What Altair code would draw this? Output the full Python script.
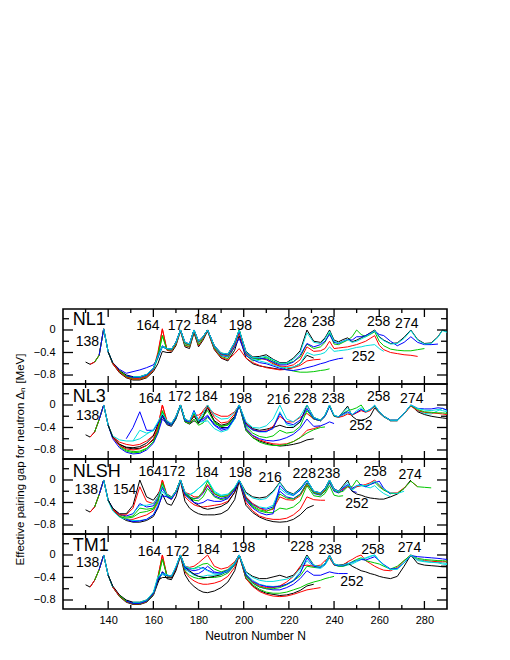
import altair as alt
import pandas as pd

_ = None

# neutron-number grid shared by all chains
GRID_N = [128, 130, 132, 134, 136, 138, 140, 142,
          145, 148, 151, 154, 157, 160,
          162, 164, 166, 168, 170, 172, 174, 176, 178, 180, 182, 184,
          187, 190, 193, 196, 198,
          201, 204, 207, 210, 213, 216, 219, 222, 225,
          228, 231, 234, 236, 238, 240, 242, 244, 246, 248, 250, 252, 254, 256, 258, 260, 262,
          265, 268, 271, 274, 277, 280, 283, 286, 288, 290]

CHAIN_COLORS = ["#000000", "#ff0000", "#00c800", "#0000ff", "#00dede",
                "#000000", "#ff0000", "#00c800", "#0000ff", "#00dede"]

# each chain: (first N, values on consecutive grid points)
NL1 = [
    (130, [-.57, -.61, -.57, -.45, .02, -.39, -.60,
           -.76, -.85, -.89, -.89, -.85, -.74,
           -.60, -.38, -.40, -.40, -.28, -.02, -.30, -.33, -.05, -.30, -.18, -.02,
           -.35, -.50, -.55, -.36, -.10,
           -.50, -.60, -.64, -.66, -.68, -.70, -.70, -.66, -.60,
           -.45, -.50]),
    (132, [-.61, -.57, -.45, .02, -.39, -.60,
           -.75, -.84, -.88, -.88, -.84, -.72,
           -.45, .02, -.36, -.38, -.26, -.01, -.28, -.30, -.03, -.28, -.16, -.01,
           -.34, -.49, -.53, -.42, -.33,
           -.50, -.58, -.63, -.67, -.69, -.71, -.70, -.67, -.63,
           -.55, -.53, -.52]),
    (134, [-.57, -.45, .02, -.39, -.59,
           -.74, -.83, -.87, -.87, -.83, -.71,
           -.50, -.10, -.35, -.37, -.25, .00, -.27, -.29, -.02, -.26, -.15, .00,
           -.32, -.47, -.51, -.30, .00,
           -.45, -.55, -.52, -.50, -.58, -.65, -.70, -.73, -.75,
           -.75, -.74, -.72, -.71, -.69]),
    (136, [-.45, .02, -.39, -.58,
           -.70, -.77, -.74, -.71, -.67, -.62,
           -.50, -.30, -.34, -.35, -.22, .00, -.24, -.26, .00, -.22, -.13, .00,
           -.30, -.45, -.48, -.30, -.15,
           -.45, -.53, -.58, -.60, -.64, -.68, -.71, -.72, -.70,
           -.67, -.64, -.60, -.58, -.55, -.53, -.51, -.50]),
    (138, [.02, -.39, -.58,
           -.73, -.81, -.85, -.85, -.81, -.70,
           -.48, -.30, -.34, -.36, -.24, .00, -.25, -.27, .00, -.23, -.13, .00,
           -.30, -.44, -.47, -.25, .00,
           -.43, -.52, -.55, -.58, -.62, -.66, -.67, -.66, -.60,
           -.40, -.45, -.43, -.40, -.30, -.38, -.37, -.36, -.35, -.33, -.31, -.30, -.28, -.27, -.26, -.33, -.38]),
    (140, [-.39, -.58,
           -.72, -.80, -.83, -.83, -.79, -.68,
           -.47, -.29, -.33, -.34, -.22, .00, -.22, -.25, .00, -.20, -.12, .00,
           -.28, -.41, -.43, -.22, .00,
           -.38, -.48, -.47, -.44, -.52, -.58, -.58, -.50, -.37,
           .00, -.20, -.22, -.14, .00, -.18, -.21, -.17, -.14, -.21, -.18, -.14, -.10, -.05, .00, -.12, -.18,
           -.24, -.23, -.13, .00, -.17, -.24, -.23, -.12, .00, -.03]),
    (142, [-.59,
           -.74, -.83, -.86, -.86, -.82, -.70,
           -.40, .02, -.35, -.36, -.24, .00, -.24, -.27, -.01, -.22, -.13, .00,
           -.29, -.43, -.46, -.26, -.05,
           -.42, -.50, -.50, -.53, -.60, -.64, -.65, -.62, -.53,
           -.30, -.38, -.37, -.33, -.20, -.33, -.32, -.31, -.30, -.28, -.26, -.23, -.20, -.15, -.10, -.27, -.35,
           -.40, -.42, -.44, -.45, -.47]),
    (145, [-.73, -.82, -.85, -.84, -.80, -.69,
           -.44, -.10, -.34, -.35, -.23, .00, -.23, -.26, .00, -.21, -.12, .00,
           -.29, -.42, -.45, -.23, .00,
           -.40, -.50, -.52, -.48, -.55, -.60, -.60, -.56, -.48,
           -.25, -.33, -.30, -.22, -.05, -.25, -.26, -.22, -.18, -.12, .00, -.08, -.12, -.08, -.03, -.20, -.28,
           -.34, -.36, -.37, -.37, -.35, -.33]),
    (148, [-.81, -.84, -.84, -.80, -.69,
           -.46, -.28, -.33, -.34, -.22, .00, -.22, -.25, .00, -.20, -.12, .00,
           -.28, -.42, -.44, -.23, -.02,
           -.40, -.49, -.50, -.52, -.57, -.62, -.62, -.57, -.45,
           -.24, -.30, -.26, -.20, -.08, -.22, -.24, -.20, -.17, -.18, -.12, -.12, -.10, -.06, -.02, -.08, -.10,
           -.20, -.28, -.22, -.12, -.22, -.26, -.26, -.25]),
    (151, [-.83, -.83, -.79, -.68,
           -.47, -.29, -.33, -.34, -.22, .00, -.22, -.25, .00, -.20, -.12, .00,
           -.28, -.41, -.43, -.22, .00,
           -.39, -.49, -.49, -.47, -.53, -.59, -.59, -.52, -.40,
           -.05, -.22, -.24, -.16, -.02, -.20, -.23, -.20, -.17, -.22, -.20, -.16, -.12, -.07, -.01, -.13, -.19,
           -.25, -.24, -.15, -.01, -.18, -.25, -.24, -.13, -.01, -.04]),
]

NL3 = [
    (130, [-.53, -.57, -.48, -.26, .00, -.36, -.57,
           -.70, -.76, -.78, -.77, -.72, -.62,
           -.45, -.20, -.35, -.38, -.25, -.02, -.30, -.34, -.28, -.33, -.20, -.02,
           -.30, -.40, -.40, -.25, .00,
           -.45, -.58, -.64, -.68, -.71, -.73, -.72, -.70, -.67,
           -.62, -.60]),
    (132, [-.57, -.48, -.26, .00, -.36, -.56,
           -.66, -.70, -.72, -.70, -.64, -.54,
           -.38, .00, -.30, -.35, -.22, .00, -.28, -.32, -.20, -.25, -.10, .00,
           -.22, -.32, -.30, -.16, .00,
           -.42, -.55, -.62, -.66, -.69, -.70, -.69, -.65, -.58,
           -.45, -.42, -.38]),
    (134, [-.48, -.26, .00, -.36, -.58,
           -.72, -.80, -.83, -.82, -.77, -.66,
           -.50, -.12, -.33, -.36, -.24, .00, -.30, -.33, -.25, -.36, -.32, -.22,
           -.33, -.38, -.35, -.20, .00,
           -.45, -.58, -.66, -.70, -.72, -.72, -.70, -.65, -.58,
           -.50, -.44, -.40, -.39]),
    (136, [-.26, .00, -.36, -.60,
           -.76, -.84, -.87, -.86, -.80, -.68,
           -.50, -.25, -.33, -.36, -.23, .00, -.28, -.30, -.15, -.30, -.28, -.20,
           -.36, -.45, -.42, -.24, .00,
           -.42, -.54, -.60, -.63, -.64, -.62, -.58, -.52, -.42,
           -.25, -.38, -.37, -.34, -.30, -.33]),
    (138, [.00, -.36, -.55,
           -.62, -.64, -.64, -.45, -.50, -.46,
           -.32, -.16, -.30, -.34, -.21, .00, -.26, -.30, -.10, -.30, -.30, -.28,
           -.42, -.48, -.44, -.25, .00,
           -.36, -.45, -.48, -.48, -.40, -.12, -.35, -.38, -.30,
           -.08, -.25, -.28, -.20, -.03, -.20, -.22, -.18, -.14, -.18, -.13, -.08, -.12, -.08, -.01, -.12, -.20,
           -.27, -.27, -.15, -.01, -.10, -.15, -.16, -.10, -.06, -.10]),
    (140, [-.36, -.57,
           -.70, -.75, -.76, -.74, -.68, -.55,
           -.35, -.18, -.30, -.34, -.21, .00, -.25, -.30, -.20, -.32, -.22, -.05,
           -.28, -.36, -.33, -.20, .00,
           -.32, -.42, -.45, -.43, -.40, -.36, -.40, -.40, -.30,
           .00, -.22, -.27, -.18, .00, -.19, -.21, -.12, -.02, -.20, -.26, -.27, -.25, -.20, -.05, -.14, -.21,
           -.28, -.28, -.16, .00, -.12, -.17, -.20, -.22, -.23, -.24]),
    (142, [-.58,
           -.72, -.78, -.80, -.78, -.72, -.60,
           -.40, .00, -.28, -.33, -.20, .00, -.25, -.29, -.18, -.18, -.12, -.05,
           -.15, -.20, -.20, -.12, .00,
           -.33, -.44, -.47, -.46, -.38, -.20, -.30, -.30, -.22,
           -.15, -.25, -.28, -.20, -.02, -.20, -.22, -.20, -.16, -.18, -.14, -.10, -.13, -.10, -.02, -.13, -.20,
           -.28, -.28, -.16, -.02, -.10, -.13, -.14, -.15, -.16, -.17]),
    (145, [-.74, -.82, -.85, -.84, -.78, -.65,
           -.45, -.10, -.30, -.34, -.21, .00, -.25, -.30, -.15, -.30, -.20, -.10,
           -.30, -.38, -.36, -.22, .00,
           -.38, -.50, -.56, -.58, -.55, -.45, -.50, -.48, -.38,
           -.10, -.25, -.28, -.20, -.01, -.20, -.21, -.15, -.10, -.08, -.05, .00, -.12, -.08, -.02, -.12, -.20,
           -.27, -.27, -.15, -.01, -.08, -.12, -.13, -.14, -.14, -.15]),
    (148, [-.60, -.40, -.12, -.45, -.45,
           -.33, -.20, -.30, -.34, -.21, .00, -.26, -.30, -.10, -.28, -.25, -.18,
           -.35, -.42, -.40, -.23, .00,
           -.35, -.44, -.47, -.47, -.42, -.15, -.32, -.35, -.27,
           -.06, -.24, -.28, -.20, -.02, -.19, -.21, -.16, -.12, -.17, -.13, -.08, -.12, -.08, -.01, -.12, -.20,
           -.27, -.27, -.15, .00, -.06, -.07, -.07, -.05, -.06, -.09]),
    (151, [-.64, -.60, -.52, -.44,
           -.30, -.15, -.28, -.33, -.20, .00, -.25, -.29, -.12, -.28, -.15, .00,
           -.18, -.25, -.24, -.13, .00,
           -.30, -.40, -.41, -.37, -.25, .00, -.25, -.30, -.20,
           .00, -.22, -.27, -.18, .00, -.18, -.21, -.13, -.05, -.18, -.10, -.05, -.12, -.08, .00, -.12, -.20,
           -.28, -.28, -.15, .00, -.06, -.09, -.10, -.08, -.10, -.12]),
]

NLSH = [
    (130, [-.53, -.57, -.48, -.26, .00, -.36, -.52,
           -.65, -.72, -.75, -.75, -.72, -.65,
           -.50, -.25, -.42, -.45, -.30, -.02, -.38, -.50, -.56, -.60, -.62, -.62,
           -.62, -.60, -.53, -.35, -.02,
           -.45, -.58, -.66, -.71, -.74, -.75, -.74, -.70, -.62,
           -.50, -.45]),
    (132, [-.57, -.48, -.26, .00, -.36, -.52,
           -.64, -.70, -.70, -.66, -.62, -.55,
           -.40, .00, -.30, -.35, -.22, .00, -.30, -.38, -.44, -.47, -.48, -.47,
           -.45, -.43, -.38, -.22, .00,
           -.40, -.55, -.64, -.68, -.70, -.70, -.68, -.62, -.52,
           -.30, -.35, -.36, -.36]),
    (134, [-.48, -.26, .00, -.36, -.51,
           -.62, -.66, -.64, -.50, -.52, -.50,
           -.35, -.05, -.28, -.33, -.21, .00, -.26, -.32, -.36, -.37, -.30, -.15,
           -.30, -.35, -.32, -.18, .00,
           -.35, -.48, -.55, -.58, -.58, -.50, -.52, -.48, -.38,
           -.10, -.28, -.30, -.24, -.10, -.27, -.29, -.28]),
    (136, [-.26, .00, -.36, -.50,
           -.61, -.64, -.60, -.42, -.48, -.46,
           -.33, -.15, -.28, -.33, -.21, .00, -.25, -.30, -.33, -.32, -.24, -.10,
           -.28, -.33, -.30, -.17, .00,
           -.32, -.44, -.50, -.52, -.48, -.20, -.30, -.33, -.25,
           -.05, -.24, -.27, -.20, -.05, -.20, -.23, -.18, -.10, -.20, -.22]),
    (138, [.00, -.37, -.55,
           -.66, -.70, -.72, -.72, -.70, -.62,
           -.45, -.20, -.30, -.34, -.21, .00, -.24, -.26, -.22, -.15, -.08, .00,
           -.22, -.28, -.26, -.14, .00,
           -.30, -.42, -.48, -.50, -.45, -.15, -.25, -.28, -.18,
           .00, -.21, -.24, -.16, .00, -.17, -.21, -.15, -.10, -.18, -.12, -.10, -.12, -.14, -.10, -.18, -.24,
           -.30]),
    (140, [-.36, -.50,
           -.60, -.60, -.45, .00, -.30, -.36,
           -.25, -.12, -.25, -.30, -.20, .00, -.22, -.30, -.40, -.45, -.50, -.52,
           -.50, -.47, -.40, -.22, .00,
           -.22, -.30, -.32, -.30, -.20, -.04, -.20, -.25, -.15,
           .00, -.20, -.23, -.15, .00, -.16, -.20, -.10, .00, -.20, -.25, -.27, -.30, -.32, -.33, -.34, -.34,
           -.30, -.25, -.15, .00]),
    (142, [-.52,
           -.62, -.62, -.50, -.12, -.38, -.42,
           -.30, .00, -.26, -.31, -.20, .00, -.22, -.25, -.30, -.30, -.22, -.08,
           -.25, -.30, -.28, -.15, .00,
           -.30, -.42, -.50, -.55, -.52, -.30, -.35, -.36, -.28,
           -.08, -.22, -.25, -.18, -.02, -.18, -.20, -.16, -.12, -.15, -.12, -.10, -.08, -.05, .00, -.10, -.17,
           -.23, -.23, -.14, -.02, -.12]),
    (145, [-.65, -.68, -.66, -.58, -.56, -.52,
           -.38, -.05, -.27, -.32, -.20, .00, -.24, -.30, -.34, -.30, -.20, -.02,
           -.24, -.30, -.28, -.15, .00,
           -.33, -.46, -.53, -.56, -.50, -.25, -.32, -.34, -.26,
           -.06, -.23, -.26, -.20, -.02, -.18, -.22, -.20, -.12, -.12, .00, -.10, -.10, -.08, -.04, -.12, -.18,
           -.24, -.24, -.15, -.02, -.12, -.13, -.14]),
    (148, [-.70, -.74, -.73, -.70, -.62,
           -.48, -.28, -.30, -.34, -.22, .00, -.26, -.34, -.40, -.42, -.40, -.35,
           -.38, -.38, -.33, -.18, .00,
           -.36, -.50, -.58, -.62, -.60, -.10, -.22, -.27, -.18,
           -.01, -.20, -.23, -.15, -.01, -.16, -.20, -.14, -.08, -.15, -.10, -.08, -.12, -.08, -.05, -.02, -.15,
           -.25]),
    (151, [-.60, -.45, -.45, -.42,
           -.30, -.10, -.26, -.31, -.20, .00, -.22, -.27, -.22, -.15, -.08, .00,
           -.20, -.27, -.25, -.13, .00,
           -.24, -.32, -.35, -.33, -.22, -.05, -.21, -.26, -.16,
           .00, -.20, -.23, -.16, .00, -.17, -.20, -.12, -.04, -.18, -.10, -.10, -.10, -.07, -.02, -.08, -.16,
           -.23, -.24, -.20]),
]

TM1 = [
    (130, [-.53, -.57, -.45, -.26, .00, -.36, -.57,
           -.74, -.84, -.88, -.88, -.84, -.72,
           -.50, -.30, -.42, -.44, -.28, -.02, -.35, -.48, -.56, -.62, -.66, -.67,
           -.64, -.58, -.48, -.28, .00,
           -.42, -.55, -.63, -.68, -.70, -.72, -.71, -.68, -.63,
           -.55, -.52]),
    (132, [-.57, -.45, -.26, .00, -.36, -.56,
           -.72, -.82, -.86, -.86, -.82, -.70,
           -.40, .00, -.38, -.40, -.24, .00, -.30, -.40, -.46, -.50, -.52, -.52,
           -.50, -.46, -.38, -.22, .00,
           -.42, -.56, -.65, -.70, -.73, -.74, -.73, -.70, -.66,
           -.62, -.60, -.58]),
    (134, [-.45, -.26, .00, -.36, -.57,
           -.73, -.83, -.87, -.87, -.83, -.71,
           -.45, -.07, -.37, -.39, -.23, .00, -.28, -.36, -.40, -.42, -.42, -.40,
           -.40, -.38, -.32, -.18, .00,
           -.40, -.53, -.61, -.66, -.68, -.68, -.66, -.62, -.58,
           -.52, -.48, -.45, -.42, -.40, -.38]),
    (136, [-.26, .00, -.36, -.56,
           -.72, -.81, -.85, -.85, -.81, -.69,
           -.45, -.30, -.36, -.38, -.22, .00, -.25, -.30, -.34, -.33, -.28, -.20,
           -.30, -.33, -.30, -.17, .00,
           -.38, -.50, -.57, -.60, -.62, -.62, -.58, -.52, -.42,
           -.28, -.36, -.36, -.33, -.30, -.32, -.33, -.33, -.33]),
    (138, [.00, -.36, -.56,
           -.72, -.82, -.86, -.86, -.82, -.68,
           -.42, -.35, -.37, -.39, -.22, .00, -.24, -.30, -.36, -.38, -.38, -.36,
           -.36, -.34, -.28, -.16, .00,
           -.34, -.45, -.52, -.55, -.56, -.55, -.52, -.45, -.30,
           -.10, -.22, -.24, -.18, -.05, -.18, -.20, -.20, -.18, -.16, -.12, -.08, -.06, -.03, .00, -.10, -.18,
           -.26, -.25, -.14, -.01, -.10, -.12, -.13, -.13, -.14, -.15]),
    (140, [-.36, -.55,
           -.71, -.80, -.84, -.84, -.80, -.67,
           -.45, -.40, -.40, -.41, -.24, .00, -.22, -.28, -.34, -.38, -.40, -.40,
           -.38, -.35, -.28, -.15, .00,
           -.30, -.38, -.42, -.42, -.39, -.36, -.40, -.36, -.22,
           .00, -.18, -.21, -.15, .00, -.16, -.18, -.17, -.14, -.20, -.24, -.28, -.30, -.33, -.35, -.38, -.40,
           -.42, -.38, -.20, .00, -.15, -.18, -.19, -.20, -.21, -.21]),
    (142, [-.57,
           -.73, -.83, -.87, -.87, -.83, -.70,
           -.40, .00, -.36, -.39, -.23, .00, -.20, -.22, -.20, -.14, -.07, .00,
           -.20, -.25, -.22, -.12, .00,
           -.36, -.48, -.55, -.58, -.58, -.55, -.48, -.38, -.20,
           -.18, -.20, -.18, -.10, -.05, -.18, -.19, -.18, -.12, -.08, -.03, .00, -.10, -.15, -.20, -.24, -.27,
           -.28, -.22, -.10, .00, -.08, -.10, -.11, -.12, -.12, -.12]),
    (145, [-.72, -.82, -.86, -.86, -.82, -.69,
           -.42, -.07, -.36, -.38, -.22, .00, -.21, -.24, -.24, -.20, -.16, -.15,
           -.25, -.30, -.26, -.14, .00,
           -.37, -.50, -.57, -.60, -.60, -.58, -.53, -.46, -.37,
           -.20, -.22, -.21, -.15, -.02, -.17, -.20, -.20, -.17, -.12, -.08, -.05, -.10, -.12, -.14, -.16, -.20,
           -.25, -.20, -.10, .00, -.06, -.08, -.09, -.10, -.10, -.11]),
    (148, [-.82, -.86, -.86, -.82, -.69,
           -.43, -.33, -.36, -.38, -.22, .00, -.22, -.26, -.28, -.26, -.22, -.27,
           -.32, -.32, -.27, -.15, .00,
           -.35, -.47, -.53, -.56, -.57, -.56, -.52, -.46, -.33,
           -.05, -.20, -.22, -.16, -.01, -.17, -.19, -.19, -.16, -.13, -.10, -.08, -.09, -.06, -.03, -.10, -.17,
           -.25, -.24, -.14, -.01, -.03, -.04, -.05, -.06, -.07, -.08]),
    (151, [-.84, -.84, -.80, -.66,
           -.38, -.33, -.35, -.38, -.20, .00, -.20, -.23, -.25, -.22, -.24, -.28,
           -.34, -.34, -.28, -.15, .00,
           -.31, -.40, -.45, -.47, -.47, -.45, -.43, -.38, -.25,
           -.02, -.18, -.21, -.15, -.01, -.16, -.18, -.18, -.15, -.14, -.10, -.07, -.05, -.02, .00, -.10, -.18,
           -.26, -.25, -.14, .00, -.08, -.11, -.13, -.14, -.16, -.17]),
]

PANEL_NAMES = ["NL1", "NL3", "NLSH", "TM1"]
NAME_V = [0.18, 0.15, 0.15, 0.16]
NAME_N = 124.3

NL1_LABELS = [("138", 130.8, -0.21), ("164", 157.6, 0.07), ("172", 171.5, 0.07),
              ("184", 183.0, 0.18), ("198", 198.5, 0.07), ("228", 222.8, 0.13),
              ("238", 235.3, 0.14), ("258", 259.7, 0.14), ("274", 272.2, 0.10),
              ("252", 253.0, -0.48)]
NL3_LABELS = [("138", 130.9, -0.19), ("164", 158.6, 0.11), ("172", 171.6, 0.14),
              ("184", 183.4, 0.14), ("198", 198.5, 0.11), ("216", 215.4, 0.08),
              ("228", 227.2, 0.11), ("238", 239.6, 0.11), ("258", 259.7, 0.15),
              ("274", 274.4, 0.11), ("252", 251.9, -0.37)]
NLSH_LABELS = [("138", 130.3, -0.17), ("154", 147.3, -0.17), ("164", 158.6, 0.14),
               ("172", 169.0, 0.14), ("184", 183.7, 0.12), ("198", 198.5, 0.12),
               ("216", 211.7, 0.03), ("228", 226.8, 0.11), ("238", 237.6, 0.11),
               ("258", 258.2, 0.14), ("274", 273.7, 0.08), ("252", 250.1, -0.43)]
TM1_LABELS = [("138", 130.9, -0.15), ("164", 158.3, 0.05), ("172", 170.7, 0.05),
              ("184", 184.2, 0.08), ("198", 199.9, 0.12), ("228", 225.8, 0.14),
              ("238", 238.3, 0.08), ("258", 257.2, 0.08), ("274", 273.4, 0.12),
              ("252", 247.9, -0.48)]

X_MAJOR = [140, 160, 180, 200, 220, 240, 260, 280]
X_MINOR = [130, 150, 170, 190, 210, 230, 250, 270]
Y_MAJOR = [-0.8, -0.4, 0.0]
Y_MINOR = [-0.6, -0.2, 0.2]

Y_TITLE = "Effective pairing gap for neutron \u0394\u2099 [MeV]"
X_TITLE = "Neutron Number N"

W, H = 384, 75
FONT = "Liberation Sans"

xs = alt.Scale(domain=[120, 290], nice=False, zero=False)
ys = alt.Scale(domain=[-0.96, 0.373], nice=False, zero=False)


def chain_df(start, vals):
    i0 = GRID_N.index(start)
    ns = GRID_N[i0:i0 + len(vals)]
    assert len(ns) == len(vals), (start, len(vals))
    return pd.DataFrame({"N": ns, "v": vals})


def make_panel(p, chains, labels):
    if p == 3:
        xenc = alt.X("N:Q", scale=xs, axis=alt.Axis(values=X_MAJOR, ticks=False, domain=False, grid=False,
                                                   labelPadding=5, format="d", title=X_TITLE,
                                                   titlePadding=5, titleFontSize=12))
    else:
        xenc = alt.X("N:Q", scale=xs, axis=None)
    ykw = dict(values=Y_MAJOR, ticks=False, domain=False, grid=False, labelPadding=8,
               labelExpr="datum.value == 0 ? '0' : format(datum.value, '.1f')")
    if p == 1:
        yax = alt.Axis(title=Y_TITLE, titleX=-43, titleY=H, titleAlign="center",
                       titleBaseline="middle", titleFontSize=11.5, **ykw)
        yenc = alt.Y("v:Q", scale=ys, axis=yax)
    else:
        yenc = alt.Y("v:Q", scale=ys, axis=alt.Axis(**ykw), title=None)

    layers = []
    for k, (start, vals) in enumerate(chains):
        layers.append(alt.Chart(chain_df(start, vals)).mark_line(
            color=CHAIN_COLORS[k], strokeWidth=1, clip=True).encode(x=xenc, y=yenc))

    ldf = pd.DataFrame(labels, columns=["t", "N", "v"])
    layers.append(alt.Chart(ldf).mark_text(font=FONT, fontSize=14, color="black").encode(
        x=xenc, y=yenc, text="t:N"))
    ndf = pd.DataFrame({"t": [PANEL_NAMES[p]], "N": [NAME_N], "v": [NAME_V[p]]})
    layers.append(alt.Chart(ndf).mark_text(font=FONT, fontSize=18, align="left", color="black").encode(
        x=xenc, y=yenc, text="t:N"))

    ymaj = pd.DataFrame({"v": Y_MAJOR})
    ymin = pd.DataFrame({"v": Y_MINOR})
    xmaj = pd.DataFrame({"N": X_MAJOR})
    xmin = pd.DataFrame({"N": X_MINOR})
    rk = dict(color="black", strokeWidth=1.3)
    layers += [
        alt.Chart(ymaj).mark_rule(**rk).encode(y=yenc, x=alt.value(0), x2=alt.value(10)),
        alt.Chart(ymin).mark_rule(**rk).encode(y=yenc, x=alt.value(0), x2=alt.value(6)),
        alt.Chart(ymaj).mark_rule(**rk).encode(y=yenc, x=alt.value(W), x2=alt.value(W - 10)),
        alt.Chart(ymin).mark_rule(**rk).encode(y=yenc, x=alt.value(W), x2=alt.value(W - 6)),
        alt.Chart(xmaj).mark_rule(**rk).encode(x=xenc, y=alt.value(H), y2=alt.value(H - 8)),
        alt.Chart(xmin).mark_rule(**rk).encode(x=xenc, y=alt.value(H), y2=alt.value(H - 4)),
        alt.Chart(xmaj).mark_rule(**rk).encode(x=xenc, y=alt.value(0), y2=alt.value(8)),
        alt.Chart(xmin).mark_rule(**rk).encode(x=xenc, y=alt.value(0), y2=alt.value(4)),
    ]
    return alt.layer(*layers).properties(width=W, height=H)


panels = [make_panel(0, NL1, NL1_LABELS), make_panel(1, NL3, NL3_LABELS),
          make_panel(2, NLSH, NLSH_LABELS), make_panel(3, TM1, TM1_LABELS)]

chart = alt.vconcat(*panels, spacing=0, bounds="flush").properties(
    padding={"left": 5, "top": 299, "right": 10, "bottom": 5}
).configure_view(stroke="black", strokeWidth=1.6).configure_axis(
    labelFont=FONT, titleFont=FONT, labelFontSize=11, labelColor="black",
    titleColor="black", titleFontWeight="normal"
)

chart.save("out.html", embed_options={"renderer": "svg", "actions": False})
